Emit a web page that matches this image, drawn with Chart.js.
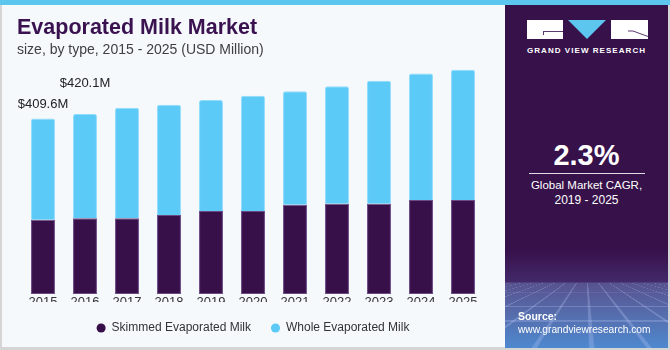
<!DOCTYPE html>
<html>
<head>
<meta charset="utf-8">
<script src="https://cdn.jsdelivr.net/npm/chart.js@4/dist/chart.umd.min.js"></script>
<style>
  html, body { margin: 0; padding: 0; background: #ffffff; }
  #frame { position: relative; width: 670px; height: 350px; background: #d5d5d5; overflow: hidden;
           font-family: "Liberation Sans", Arial, sans-serif; }
  #leftPanel { position: absolute; left: 2px; top: 0; width: 503px; height: 347px; background: #f5f9fc; }
  #rightPanel { position: absolute; left: 505px; top: 0; width: 163px; height: 348px; overflow: hidden;
    background: linear-gradient(to bottom, #37114a 0px, #37114a 250px, #43296a 282px, #58528f 283px, #5570b0 318px, #4e88cf 348px); }
  #gridWrap { position: absolute; left: 0; top: 283px; width: 163px; height: 65px; overflow: hidden; perspective: 90px; }
  #grid { position: absolute; left: -160px; top: 0; width: 480px; height: 260px; transform-origin: 50% 0;
    transform: rotateX(62deg);
    background-image:
      repeating-linear-gradient(0deg, rgba(200,210,255,0.25) 0px, rgba(200,210,255,0.25) 1px, transparent 1px, transparent 11px),
      repeating-linear-gradient(90deg, rgba(200,210,255,0.25) 0px, rgba(200,210,255,0.25) 1px, transparent 1px, transparent 11px); }
  #topStrip { position: absolute; left: 0; top: 0; width: 670px; height: 5px; background: #5cc6ef; }
  #chartBox { position: absolute; left: 0; top: 0; width: 505px; height: 350px; }
  .txt { position: absolute; white-space: nowrap; line-height: 1; margin: 0; }
  #title { left: 17px; top: 17px; font-size: 21.5px; font-weight: bold; color: #3a1250; }
  #subtitle { left: 17px; top: 42px; font-size: 14px; color: #404040; }
  #cagr { left: 505px; width: 163px; text-align: center; top: 140.5px; font-size: 29px; font-weight: bold; color: #ffffff; }
  #cagrLine { position: absolute; left: 529px; top: 173px; width: 116px; height: 1px; background: rgba(255,255,255,0.85); }
  #cagrText1 { left: 505px; width: 163px; text-align: center; top: 179.5px; font-size: 11.5px; color: #ffffff; }
  #cagrText2 { left: 505px; width: 163px; text-align: center; top: 194px; font-size: 12px; color: #ffffff; }
  #srcHead { left: 518px; top: 310.5px; font-size: 10.5px; font-weight: bold; color: #ffffff; }
  #srcUrl { left: 518px; top: 324.5px; font-size: 10.2px; color: #ffffff; }
  #logoText { left: 527px; top: 46.5px; font-size: 8px; font-weight: bold; color: #ffffff; letter-spacing: 1.05px; }
  #logo { position: absolute; left: 527px; top: 20px; }
</style>
</head>
<body>
<div id="frame">
  <div id="leftPanel"></div>
  <div id="rightPanel"><div id="gridWrap"><div id="grid"></div></div></div>
  <div id="topStrip"></div>
  <div id="chartBox"><canvas id="chart" width="505" height="350"></canvas></div>
  <div class="txt" id="title">Evaporated Milk Market</div>
  <div class="txt" id="subtitle">size, by type, 2015 - 2025 (USD Million)</div>

  <svg id="logo" width="121" height="20" viewBox="0 0 121 20">
    <rect x="0" y="0" width="36" height="19" fill="#ffffff"/>
    <polyline points="16,11.5 36,11.5" stroke="#5a3a70" stroke-width="1" fill="none"/>
    <polyline points="16.5,11.5 16.5,15" stroke="#5a3a70" stroke-width="1" fill="none"/>
    <polygon points="41,0 79,0 60,19" fill="#5cc6ef"/>
    <rect x="84" y="0" width="37" height="19" fill="#ffffff"/>
    <polyline points="101,11 106,11 121,16.5" stroke="#5a3a70" stroke-width="1" fill="none"/>
  </svg>
  <div class="txt" id="logoText">GRAND VIEW RESEARCH</div>

  <div class="txt" id="cagr">2.3%</div>
  <div id="cagrLine"></div>
  <div class="txt" id="cagrText1">Global Market CAGR,</div>
  <div class="txt" id="cagrText2">2019 - 2025</div>
  <div class="txt" id="srcHead">Source:</div>
  <div class="txt" id="srcUrl">www.grandviewresearch.com</div>
</div>

<script>
// ---- Data (USD Million) ----
const years = ['2015', '2016', '2017', '2018', '2019', '2020', '2021', '2022', '2023', '2024', '2025'];
const skimmedMilk = [173.1, 177.0, 177.0, 184.1, 193.5, 193.5, 208.2, 210.6, 210.6, 219.3, 219.3];
const wholeMilk   = [236.5, 243.1, 257.3, 257.2, 259.1, 268.9, 265.0, 274.4, 287.0, 295.4, 304.1];
const seriesNames = ['Skimmed Evaporated Milk', 'Whole Evaporated Milk'];
const labelledYears = ['2015', '2016'];

// ---- Styles ----
const FONT = '"Liberation Sans", Arial, sans-serif';
const labelLift = { '2015': 10, '2016': 27 };

const totalLabels = {
  id: 'totalLabels',
  afterDatasetsDraw(chart) {
    const ctx = chart.ctx;
    const xs = chart.scales.x, ys = chart.scales.y;
    ctx.save();
    ctx.font = '13px ' + FONT;
    ctx.fillStyle = '#222222';
    ctx.textAlign = 'center';
    ctx.textBaseline = 'alphabetic';
    labelledYears.forEach(yr => {
      const i = years.indexOf(yr);
      const total = skimmedMilk[i] + wholeMilk[i];
      const px = xs.getPixelForValue(i);
      const py = ys.getPixelForValue(total) - labelLift[yr];
      ctx.fillText('$' + total.toFixed(1) + 'M', px, py);
    });
    ctx.restore();
  }
};

new Chart(document.getElementById('chart'), {
  type: 'bar',
  data: {
    labels: years,
    datasets: [
      { label: seriesNames[0], data: skimmedMilk, backgroundColor: '#37104a', borderColor: '#6c4a84',
        borderWidth: 1, borderSkipped: false },
      { label: seriesNames[1], data: wholeMilk, backgroundColor: '#5ccaf6', borderColor: '#8fdcfb',
        borderWidth: 1, borderSkipped: 'bottom', borderRadius: { topLeft: 2, topRight: 2, bottomLeft: 0, bottomRight: 0 } }
    ]
  },
  options: {
    responsive: false,
    animation: false,
    events: [],
    layout: { padding: { left: 22, right: 21, top: 54, bottom: 6 } },
    datasets: { bar: { barPercentage: 0.57, categoryPercentage: 1.0 } },
    scales: {
      x: {
        stacked: true,
        grid: { display: false, drawTicks: false },
        border: { display: false },
        ticks: { color: '#333333', font: { size: 13, family: FONT }, padding: 1 },
        afterFit(scale) { scale.height = 8; }
      },
      y: { stacked: true, display: false, min: 0, max: 560 }
    },
    plugins: {
      legend: {
        position: 'bottom',
        labels: {
          usePointStyle: true, pointStyle: 'circle', boxWidth: 9, boxHeight: 6.4, padding: 20,
          color: '#333333', font: { size: 12, family: FONT },
          generateLabels(chart) {
            return Chart.defaults.plugins.legend.labels.generateLabels(chart).map(l => {
              l.strokeStyle = l.fillStyle; l.lineWidth = 0; l.pointStyle = 'circle'; return l;
            });
          }
        }
      },
      tooltip: { enabled: false }
    }
  },
  plugins: [totalLabels]
});
</script>
</body>
</html>
